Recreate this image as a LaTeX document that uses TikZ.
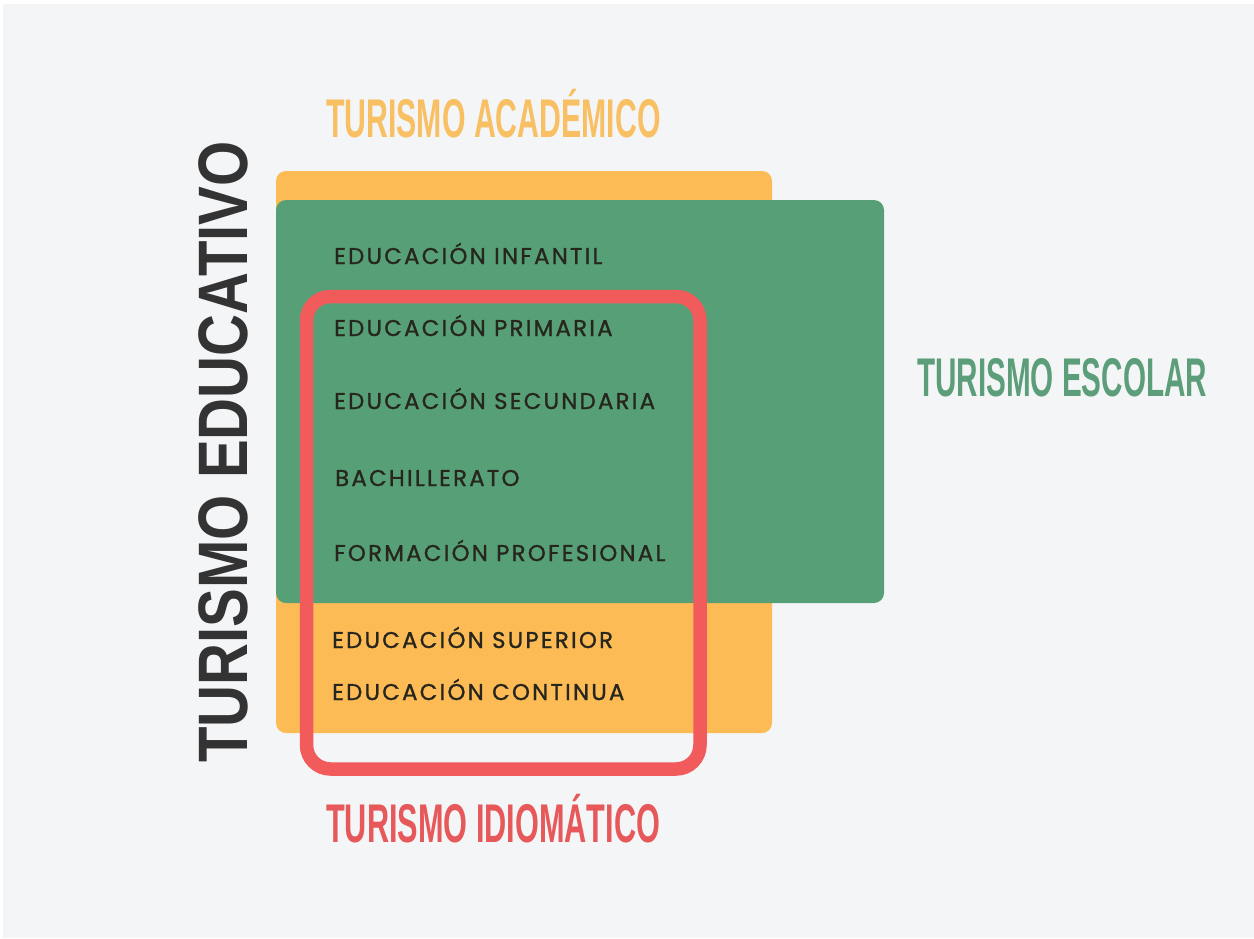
\documentclass[tikz,border=0pt]{standalone}
\usepackage{fontspec}
\setmainfont{Liberation Sans}
\newfontfamily\listfont[LetterSpace=10,FakeBold=1.2]{Poppins}
\definecolor{bgc}{HTML}{F4F5F7}
\definecolor{orbox}{HTML}{FDBB55}
\definecolor{grbox}{HTML}{57A077}
\definecolor{rdbox}{HTML}{F25B5B}
\definecolor{ortxt}{HTML}{F8BF63}
\definecolor{grtxt}{HTML}{5B9E79}
\definecolor{rdtxt}{HTML}{E65859}
\definecolor{dktxt}{HTML}{26261E}
\definecolor{vttxt}{HTML}{333333}
\tikzset{
  titletxt/.style={anchor=base west, inner sep=0pt, font=\fontsize{54.5}{60}\selectfont\bfseries},
  itemtxt/.style={anchor=base west, inner sep=0pt, text=dktxt, font=\listfont\fontsize{22.8}{26}\selectfont},
}
\begin{document}
\begin{tikzpicture}[x=1pt,y=-1pt]
\useasboundingbox (0,0) rectangle (1254,938);
\fill[white] (0,0) rectangle (1254,938);
\fill[bgc] (3,4) rectangle (1254,938);
% boxes
\fill[orbox, rounded corners=10pt] (276,171) rectangle (772,733);
\fill[grbox, rounded corners=10pt] (276,200) rectangle (884,603);
\draw[rdbox, line width=13.5pt, rounded corners=24pt] (306.5,296.5) rectangle (700,769);
% titles
\node[titletxt, text=ortxt] (acad) at (326,137) {\scalebox{0.555}[1]{TURISMO ACADÉMICO}};
\node[titletxt, text=grtxt] (esc) at (917,396) {\scalebox{0.544}[1]{TURISMO ESCOLAR}};
\node[titletxt, text=rdtxt] (idio) at (326,842) {\scalebox{0.563}[1]{TURISMO IDIOMÁTICO}};
\node[rotate=90, inner sep=0pt, text=vttxt, font=\fontsize{70}{80}\selectfont\bfseries] (edu) at (223,452) {\scalebox{0.83}[1]{TURISMO EDUCATIVO}};
% items
\node[itemtxt] (i1) at (334,264) {EDUCACIÓN INFANTIL};
\node[itemtxt] (i2) at (334,336) {EDUCACIÓN PRIMARIA};
\node[itemtxt] (i3) at (334,409) {EDUCACIÓN SECUNDARIA};
\node[itemtxt] (i4) at (335,486) {BACHILLERATO};
\node[itemtxt] (i5) at (334,561) {FORMACIÓN PROFESIONAL};
\node[itemtxt] (i6) at (332,648) {EDUCACIÓN SUPERIOR};
\node[itemtxt] (i7) at (332,700) {EDUCACIÓN CONTINUA};
\end{tikzpicture}
\end{document}
